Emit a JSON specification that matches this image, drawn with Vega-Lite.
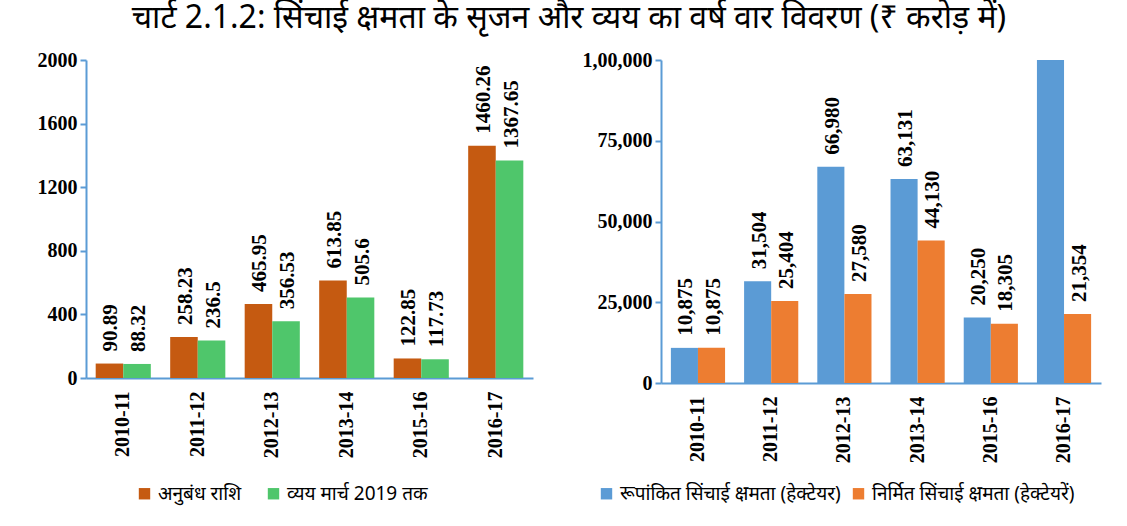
{
  "$schema": "https://vega.github.io/schema/vega-lite/v6.json",
  "background": "white",
  "padding": {"left": 37, "top": 2, "right": 16, "bottom": 4},
  "title": {
    "text": "चार्ट 2.1.2: सिंचाई क्षमता के सृजन और व्यय का वर्ष वार विवरण (₹ करोड़ में)",
    "font": "Noto Sans",
    "fontSize": 32,
    "fontWeight": "normal",
    "color": "black",
    "anchor": "middle",
    "offset": 15
  },
  "datasets": {
    "contract": [
      {"year": "2010-11", "series": "अनुबंध राशि", "value": 90.89},
      {"year": "2010-11", "series": "व्यय मार्च 2019 तक", "value": 88.32},
      {"year": "2011-12", "series": "अनुबंध राशि", "value": 258.23},
      {"year": "2011-12", "series": "व्यय मार्च 2019 तक", "value": 236.5},
      {"year": "2012-13", "series": "अनुबंध राशि", "value": 465.95},
      {"year": "2012-13", "series": "व्यय मार्च 2019 तक", "value": 356.53},
      {"year": "2013-14", "series": "अनुबंध राशि", "value": 613.85},
      {"year": "2013-14", "series": "व्यय मार्च 2019 तक", "value": 505.6},
      {"year": "2015-16", "series": "अनुबंध राशि", "value": 122.85},
      {"year": "2015-16", "series": "व्यय मार्च 2019 तक", "value": 117.73},
      {"year": "2016-17", "series": "अनुबंध राशि", "value": 1460.26},
      {"year": "2016-17", "series": "व्यय मार्च 2019 तक", "value": 1367.65}
    ],
    "capacity": [
      {"year": "2010-11", "series": "रूपांकित सिंचाई क्षमता (हेक्टेयर)", "value": 10875},
      {"year": "2010-11", "series": "निर्मित सिंचाई क्षमता (हेक्टेयरें)", "value": 10875},
      {"year": "2011-12", "series": "रूपांकित सिंचाई क्षमता (हेक्टेयर)", "value": 31504},
      {"year": "2011-12", "series": "निर्मित सिंचाई क्षमता (हेक्टेयरें)", "value": 25404},
      {"year": "2012-13", "series": "रूपांकित सिंचाई क्षमता (हेक्टेयर)", "value": 66980},
      {"year": "2012-13", "series": "निर्मित सिंचाई क्षमता (हेक्टेयरें)", "value": 27580},
      {"year": "2013-14", "series": "रूपांकित सिंचाई क्षमता (हेक्टेयर)", "value": 63131},
      {"year": "2013-14", "series": "निर्मित सिंचाई क्षमता (हेक्टेयरें)", "value": 44130},
      {"year": "2015-16", "series": "रूपांकित सिंचाई क्षमता (हेक्टेयर)", "value": 20250},
      {"year": "2015-16", "series": "निर्मित सिंचाई क्षमता (हेक्टेयरें)", "value": 18305},
      {"year": "2016-17", "series": "रूपांकित सिंचाई क्षमता (हेक्टेयर)", "value": 120000},
      {"year": "2016-17", "series": "निर्मित सिंचाई क्षमता (हेक्टेयरें)", "value": 21354}
    ]
  },
  "spacing": 49,
  "hconcat": [
    {
      "width": 447,
      "height": 318,
      "data": {"name": "contract"},
      "encoding": {
        "x": {
          "field": "year",
          "type": "nominal",
          "scale": {"paddingInner": 0.26, "paddingOuter": 0.13},
          "axis": {"title": null, "labelAngle": -90, "ticks": false, "labelPadding": 13}
        },
        "xOffset": {"field": "series", "type": "nominal", "scale": {"domain": ["अनुबंध राशि", "व्यय मार्च 2019 तक"], "paddingInner": 0, "paddingOuter": 0}},
        "y": {
          "field": "value",
          "type": "quantitative",
          "scale": {"domain": [0, 2000]},
          "axis": {"title": null, "grid": false, "values": [0, 400, 800, 1200, 1600, 2000], "format": "d"}
        }
      },
      "layer": [
        {
          "mark": {"type": "bar"},
          "encoding": {
            "color": {
              "field": "series",
              "type": "nominal",
              "scale": {"domain": ["अनुबंध राशि", "व्यय मार्च 2019 तक"], "range": ["#C55A11", "#4FC66B"]},
              "legend": {"title": null, "orient": "none", "legendX": 49, "legendY": 424, "direction": "horizontal", "symbolType": "square", "columnPadding": 22}
            }
          }
        },
        {
          "mark": {"type": "text", "angle": 270, "align": "left", "baseline": "middle", "dx": 12, "dy": 2, "font": "Liberation Serif", "fontWeight": "bold", "fontSize": 21, "color": "black"},
          "encoding": {"text": {"field": "value", "type": "nominal"}}
        }
      ]
    },
    {
      "width": 440,
      "height": 323,
      "data": {"name": "capacity"},
      "encoding": {
        "x": {
          "field": "year",
          "type": "nominal",
          "scale": {"paddingInner": 0.26, "paddingOuter": 0.135},
          "axis": {"title": null, "labelAngle": -90, "ticks": false, "labelPadding": 13}
        },
        "xOffset": {"field": "series", "type": "nominal", "scale": {"domain": ["रूपांकित सिंचाई क्षमता (हेक्टेयर)", "निर्मित सिंचाई क्षमता (हेक्टेयरें)"], "paddingInner": 0, "paddingOuter": 0}},
        "y": {
          "field": "value",
          "type": "quantitative",
          "scale": {"domain": [0, 100000]},
          "axis": {"title": null, "grid": false, "values": [0, 25000, 50000, 75000, 100000], "labelExpr": "datum.value == 100000 ? '1,00,000' : format(datum.value, ',')"}
        }
      },
      "layer": [
        {
          "mark": {"type": "bar", "clip": true},
          "encoding": {
            "color": {
              "field": "series",
              "type": "nominal",
              "scale": {"domain": ["रूपांकित सिंचाई क्षमता (हेक्टेयर)", "निर्मित सिंचाई क्षमता (हेक्टेयरें)"], "range": ["#5B9BD5", "#ED7D31"]},
              "legend": {"title": null, "orient": "none", "legendX": -64, "legendY": 424, "direction": "horizontal", "symbolType": "square", "columnPadding": 8}
            }
          }
        },
        {
          "transform": [{"filter": "datum.value <= 100000"}],
          "mark": {"type": "text", "angle": 270, "align": "left", "baseline": "middle", "dx": 12, "dy": 2, "font": "Liberation Serif", "fontWeight": "bold", "fontSize": 21, "color": "black"},
          "encoding": {"text": {"field": "value", "type": "quantitative", "format": ","}}
        }
      ]
    }
  ],
  "resolve": {"scale": {"color": "independent", "xOffset": "independent", "x": "independent", "y": "independent"}},
  "config": {
    "view": {"stroke": null},
    "axis": {
      "domainColor": "#5B9BD5",
      "domainWidth": 2,
      "tickColor": "#5B9BD5",
      "tickWidth": 2,
      "tickSize": 6,
      "labelPadding": 3,
      "labelFont": "Liberation Serif",
      "labelFontWeight": "bold",
      "labelFontSize": 20,
      "labelColor": "black"
    },
    "legend": {
      "labelFont": "Noto Sans",
      "labelFontSize": 19,
      "labelColor": "black",
      "symbolSize": 130,
      "symbolStrokeWidth": 0,
      "symbolOffset": 0,
      "labelOffset": 4,
      "labelLimit": 400
    }
  }
}
